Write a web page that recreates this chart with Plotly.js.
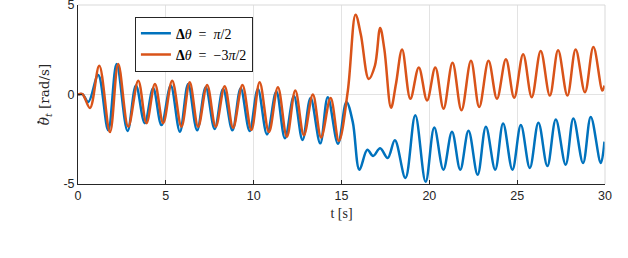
<!DOCTYPE html>
<html>
<head>
<meta charset="utf-8">
<script src="https://cdn.plot.ly/plotly-3.0.1.min.js"></script>
<style>
html,body{margin:0;padding:0;background:#fff;}
#chart{width:628px;height:258px;}
</style>
</head>
<body>
<div id="chart"></div>
<script>
// Δθ = π/2 (blue)
const blueT = [0,0.25,0.59,1.15,1.72,2.2,2.82,3.3,3.8,4.28,4.75,5.28,5.8,6.27,6.78,7.27,7.78,8.26,8.79,9.26,9.77,10.24,10.76,11.29,11.78,12.29,12.78,13.24,13.79,14.22,14.8,15.28,15.64,16.02,16.47,16.8,17.2,17.63,18.04,18.64,19.2,19.79,20.28,20.8,21.29,21.76,22.23,22.75,23.22,23.75,24.2,24.73,25.21,25.72,26.21,26.72,27.2,27.76,28.2,28.75,29.19,29.76,29.97];
const blueY = [0,0.02,-0.42,1.09,-2.0,1.7,-2.04,0.5,-1.6,0.35,-1.71,0.5,-2.08,0.59,-2.0,0.4,-1.93,0.31,-2.0,0.35,-2.04,0.31,-2.23,0.17,-2.45,-0.09,-2.54,-0.2,-2.73,-0.15,-2.75,-0.42,-1.53,-4.2,-3.09,-3.43,-3.0,-3.55,-2.56,-4.66,-1.16,-4.88,-1.85,-4.2,-2.08,-4.2,-2.03,-4.48,-1.8,-4.2,-1.62,-4.2,-1.71,-4.1,-1.58,-4.0,-1.4,-3.92,-1.34,-3.83,-1.25,-3.83,-2.63];
// Δθ = −3π/2 (orange)
const orangeT = [0,0.25,0.68,1.21,1.82,2.29,2.86,3.43,3.9,4.38,4.85,5.36,5.89,6.36,6.84,7.35,7.84,8.35,8.83,9.36,9.87,10.34,10.87,11.38,11.89,12.37,12.86,13.37,13.84,14.38,14.85,15.36,15.8,16.1,16.55,16.9,17.2,17.44,17.82,18.1,18.45,18.92,19.4,19.87,20.34,20.81,21.32,21.83,22.37,22.84,23.37,23.85,24.36,24.83,25.34,25.83,26.34,26.86,27.33,27.86,28.33,28.86,29.34,29.85,29.97];
const orangeY = [0,0.02,-0.75,1.6,-2.1,1.7,-1.8,0.77,-1.6,0.59,-1.6,0.77,-1.8,0.68,-1.8,0.53,-1.8,0.46,-1.86,0.53,-1.99,0.68,-2.1,0.4,-2.36,0.22,-2.27,0,-2.4,-0.2,-2.6,0.2,4.46,3.35,0.87,1.6,3.72,2.52,-0.74,0.59,2.52,-0.24,1.51,-0.33,1.51,-0.79,1.78,-0.88,1.88,-0.7,1.88,-0.24,1.97,-0.18,2.25,-0.15,2.43,-0.06,2.47,-0.06,2.52,0.13,2.65,0.22,0.5];

const xTickVals = [0,5,10,15,20,25,30];
const xTickText = ['0','5','10','15','20','25','30'];
const yTickVals = [-5,0,5];
const yTickText = ['-5','0','5'];

const traces = [
  {x: blueT, y: blueY, type:'scatter', mode:'lines',
   name:'<b>Δ</b><i>θ</i>&nbsp;&nbsp;=&nbsp;&nbsp;<i>π</i>/2',
   line:{color:'#0072BD', width:2.5, shape:'spline', smoothing:1}},
  {x: orangeT, y: orangeY, type:'scatter', mode:'lines',
   name:'<b>Δ</b><i>θ</i>&nbsp;&nbsp;=&nbsp;&nbsp;−3<i>π</i>/2',
   line:{color:'#D95319', width:2.5, shape:'spline', smoothing:1}}
];

const layout = {
  width:628, height:258,
  margin:{l:78, r:23, t:5, b:74},
  paper_bgcolor:'#fff', plot_bgcolor:'#fff',
  showlegend:true,
  legend:{x:0.108, y:0.935, xanchor:'left', yanchor:'top',
    bgcolor:'#fff', bordercolor:'#262626', borderwidth:1,
    font:{family:'Liberation Serif, DejaVu Serif, serif', size:14, color:'#000'},
    tracegroupgap:0},
  xaxis:{range:[0,30], tickvals:xTickVals, ticktext:xTickText,
    ticks:'inside', ticklen:4, tickcolor:'#262626',
    showline:true, linecolor:'#262626', linewidth:1,
    showgrid:true, gridcolor:'#e3e3e3', gridwidth:1, zeroline:false,
    tickfont:{family:'Liberation Sans, Arial, sans-serif', size:12.5, color:'#262626'},
    title:{text:'t [s]', standoff:6,
      font:{family:'Liberation Serif, DejaVu Serif, serif', size:14, color:'#262626'}}},
  yaxis:{range:[-5,5], tickvals:yTickVals, ticktext:yTickText,
    ticks:'inside', ticklen:4, tickcolor:'#262626',
    ticklabeloverflow:'allow',
    showline:true, linecolor:'#262626', linewidth:1,
    showgrid:true, gridcolor:'#e3e3e3', gridwidth:1, zeroline:false,
    tickfont:{family:'Liberation Sans, Arial, sans-serif', size:12.5, color:'#262626'},
    title:{text:'<i>θ</i><sub><i>t</i></sub> [rad/s]', standoff:10,
      font:{family:'DejaVu Serif, Liberation Serif, serif', size:13.5, color:'#262626'}}},
  shapes:[
    {type:'line', xref:'paper', yref:'paper', x0:0, x1:1, y0:1, y1:1, line:{color:'#d9d9d9', width:1}},
    {type:'line', xref:'paper', yref:'paper', x0:1, x1:1, y0:0, y1:1, line:{color:'#d9d9d9', width:1}},
    // dot accent of the y-axis title (θ̇)
    {type:'circle', xref:'paper', yref:'paper', xsizemode:'pixel', ysizemode:'pixel',
     xanchor:-0.075, yanchor:0.345, x0:-1.2, x1:1.2, y0:-1.2, y1:1.2,
     fillcolor:'#262626', line:{width:0}}
  ]
};

Plotly.newPlot('chart', traces, layout, {displayModeBar:false, staticPlot:true});
</script>
</body>
</html>
